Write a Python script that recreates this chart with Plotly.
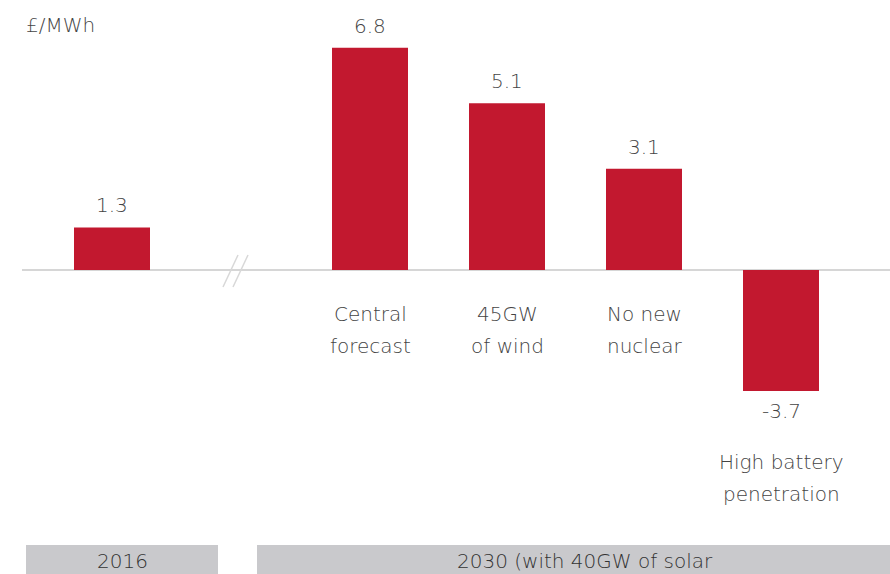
import plotly.graph_objects as go

# Price impact values, £/MWh
years = ["2016", "2030 (with 40GW of solar"]
scenarios = ["2016", "Central<br>forecast", "45GW<br>of wind", "No new<br>nuclear", "High battery<br>penetration"]
values = [1.3, 6.8, 5.1, 3.1, -3.7]
value_labels = ["1.3", "6.8", "5.1", "3.1", "-3.7"]

W, H = 890, 574
BAR = "#c2182f"
TXT = "#444444"
GREY = "#c9c9cc"
FONT = "DejaVu Sans"
FS = 20
WT = 200

# horizontal layout: 2016 bar, a break, then four evenly spaced 2030 bars
step_px = 137.0
x0_px = 112.0
pos = [0.0] + [258.0 / step_px + i for i in range(len(values) - 1)]
xr = [-x0_px / step_px, (W - x0_px) / step_px]

# vertical layout: zero line at 270 px, 32.7 px per unit
base_px = 270.0
scale = 32.7
yr = [-(H - base_px) / scale, base_px / scale]

def px2x(p):
    return xr[0] + p / step_px

def py2y(p):
    return (base_px - p) / scale

fig = go.Figure(go.Bar(
    x=pos, y=values, width=76 / step_px,
    marker=dict(color=BAR, line=dict(width=0)),
    hoverinfo="skip",
))

shapes = []
# zero line
shapes.append(dict(type="line", xref="x", yref="y", x0=px2x(22), x1=px2x(W), y0=0, y1=0,
                   line=dict(color="#c8c8c8", width=1.5), layer="below"))
# axis break marks
for dx in (0, 10):
    shapes.append(dict(type="line", xref="x", yref="y",
                       x0=px2x(223 + dx), x1=px2x(238 + dx), y0=py2y(287), y1=py2y(255),
                       line=dict(color="#d8d8d8", width=1.5)))
# year bands along the bottom
shapes.append(dict(type="rect", xref="x", yref="y", x0=px2x(26), x1=px2x(218),
                   y0=py2y(H + 2), y1=py2y(545), fillcolor=GREY, line=dict(width=0)))
shapes.append(dict(type="rect", xref="x", yref="y", x0=px2x(257), x1=px2x(W + 2),
                   y0=py2y(H + 2), y1=py2y(545), fillcolor=GREY, line=dict(width=0)))

ann = []
font = dict(family=FONT, size=FS, color=TXT, weight=WT)
# value labels
for xp, v, lab in zip(pos, values, value_labels):
    if v >= 0:
        ann.append(dict(x=xp, y=v, text=lab, showarrow=False, yanchor="bottom", yshift=8, font=font))
    else:
        ann.append(dict(x=xp, y=v, text=lab, showarrow=False, yanchor="top", yshift=-6, font=font))
# scenario labels (two lines each, 32 px apart)
for xp, v, name in zip(pos[1:], values[1:], scenarios[1:]):
    lines = name.split("<br>")
    top = 314 if v >= 0 else 462
    for i, ln in enumerate(lines):
        ann.append(dict(x=xp, y=py2y(top + 32 * i), text=ln, showarrow=False,
                        yanchor="middle", font=font))
# unit label
ann.append(dict(x=px2x(24), y=py2y(25), text="£/MWh", showarrow=False,
                xanchor="left", yanchor="middle", font=font))
# year band labels
band_font = dict(family=FONT, size=FS, color="#333333", weight=WT)
ann.append(dict(x=px2x(122), y=py2y(561), text=years[0], showarrow=False, yanchor="middle",
                font=band_font))
ann.append(dict(x=px2x(585), y=py2y(561), text=years[1], showarrow=False, yanchor="middle",
                font=band_font))

fig.update_layout(
    width=W, height=H,
    margin=dict(l=0, r=0, t=0, b=0),
    paper_bgcolor="white", plot_bgcolor="white",
    showlegend=False,
    xaxis=dict(range=xr, visible=False, fixedrange=True),
    yaxis=dict(range=yr, visible=False, fixedrange=True),
    shapes=shapes, annotations=ann,
)

fig.write_html("out.html")
